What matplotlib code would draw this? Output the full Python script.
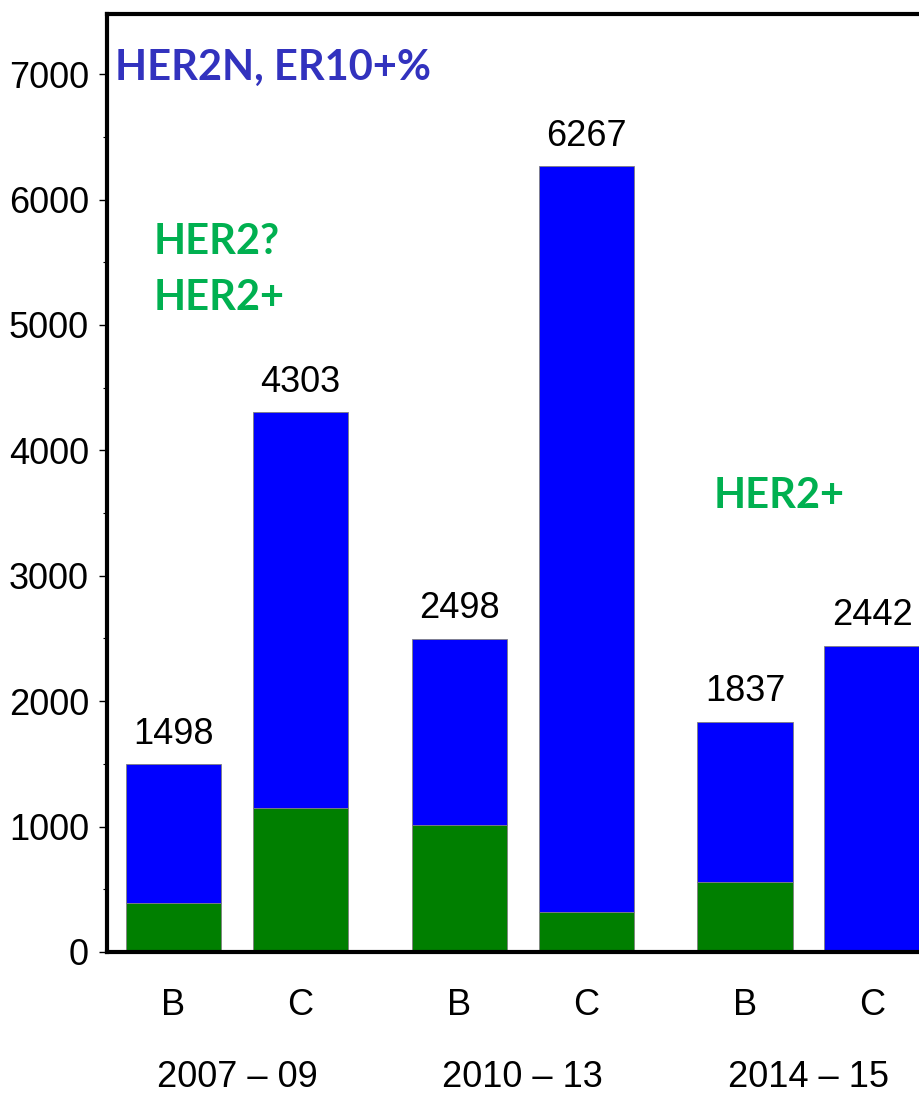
import matplotlib
matplotlib.use("Agg")
import matplotlib.pyplot as plt
import matplotlib.transforms as mtransforms

periods = ["2007 \u2013 09", "2010 \u2013 13", "2014 \u2013 15"]
groups = ["B", "C"]
totals = [1498, 4303, 2498, 6267, 1837, 2442]
her2_pos = [390, 1150, 1010, 320, 560, 0]

plt.rcParams['font.family'] = ['Liberation Sans', 'DejaVu Sans']

fig = plt.figure(figsize=(9.19, 10.94), dpi=100)
ax = fig.add_axes([0.1164, 0.1298, 0.905, 0.8574])

# bar positions: two bars per period, a wider gap between periods
xs = []
for i in range(len(periods)):
    xs += [i * 2.25, i * 2.25 + 1]
rest = [t - h for t, h in zip(totals, her2_pos)]

ax.bar(xs, her2_pos, width=0.75, color="#007F00", edgecolor="#808080", linewidth=0.6)
ax.bar(xs, rest, bottom=her2_pos, width=0.75, color="#0000FF", edgecolor="#808080", linewidth=0.6)

for x, t in zip(xs, totals):
    ax.annotate(str(t), (x, t), xytext=(0, 9), textcoords="offset points",
                ha="center", va="bottom", fontsize=26)

ax.set_xlim(-0.524, 6.024)
ax.set_ylim(0, 7480)
ax.set_yticks(range(0, 7001, 1000))
ax.set_yticks(range(500, 7001, 1000), minor=True)
ax.set_xticks(xs)
ax.set_xticklabels(groups * len(periods))
ax.tick_params(axis="y", which="major", labelsize=26, length=6, width=1, pad=7)
ax.tick_params(axis="y", which="minor", length=3, width=0.8)
ax.tick_params(axis="x", length=0, labelsize=26, pad=26)

trans = mtransforms.blended_transform_factory(ax.transData, ax.transAxes)
for i, p in enumerate(periods):
    ax.text(i * 2.25 + 0.5, -0.134, p, transform=trans, ha="center", va="center", fontsize=26)

for s in ax.spines.values():
    s.set_linewidth(3)

ax.text(-0.461, 7048, "HER2N, ER10+%", color="#3232BE", fontsize=30,
        fontweight="bold", family="Lato", va="center")
ax.text(-0.16, 5660, "HER2?", color="#00B050", fontsize=30, fontweight="bold", family="Lato", va="center")
ax.text(-0.16, 5215, "HER2+", color="#00B050", fontsize=30, fontweight="bold", family="Lato", va="center")
ax.text(4.25, 3635, "HER2+", color="#00B050", fontsize=30, fontweight="bold", family="Lato", va="center")

fig.savefig("out.png", dpi=100)
